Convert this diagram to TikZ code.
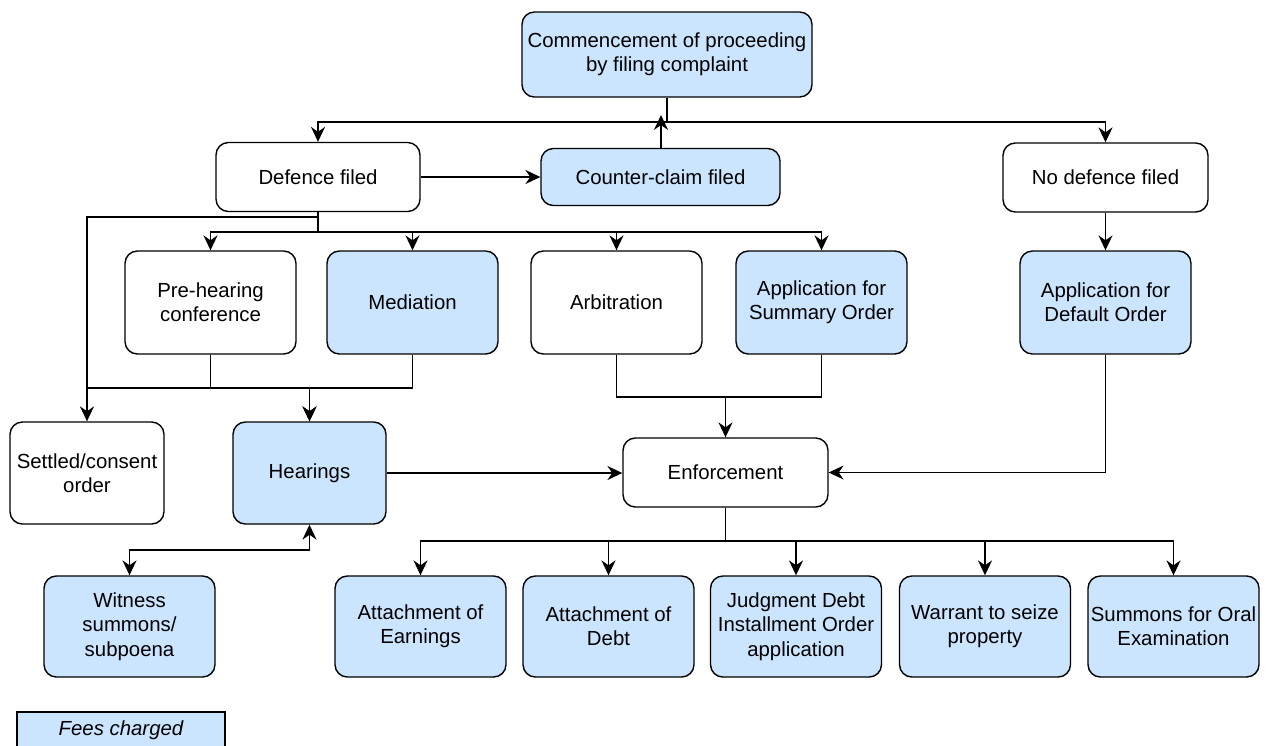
\documentclass[tikz,border=0pt]{standalone}
\usepackage{fontspec}
\setmainfont{Liberation Sans}
\usetikzlibrary{arrows.meta}

\definecolor{feeblue}{RGB}{204,229,255}

\tikzset{
  box/.style={draw, rounded corners=7pt, line width=0.8pt, fill=white, inner sep=0pt,
    align=center, font=\fontsize{11.6}{13.8}\selectfont},
  fee/.style={box, fill=feeblue},
  line/.style={line width=0.8pt},
  tip/.tip={Stealth[length=8.5pt,width=8pt,inset=2.8pt]},
  arr/.style={line, -tip},
  arrboth/.style={line, tip-tip}
}

\begin{document}
\begin{tikzpicture}[x=0.02cm, y=-0.02cm]
        \useasboundingbox (0,0) rectangle (1272,745);

        % top of the process
        \node[fee, minimum width=5.8cm, minimum height=1.7cm] (start) at (667,54.5) {Commencement of proceeding\\by filing complaint};
        \node[box, minimum width=4.08cm, minimum height=1.38cm] (defence) at (318,177) {Defence filed};
        \node[fee, minimum width=4.78cm, minimum height=1.14cm] (counter) at (660.5,177) {Counter-claim filed};
        \node[box, minimum width=4.1cm, minimum height=1.38cm] (nodef) at (1105.5,177.5) {No defence filed};

        % second row
        \node[box, minimum width=3.42cm, minimum height=2.06cm] (pre) at (210.5,302.5) {Pre-hearing\\conference};
        \node[fee, minimum width=3.42cm, minimum height=2.06cm] (med) at (412.5,302.5) {Mediation};
        \node[box, minimum width=3.42cm, minimum height=2.06cm] (arb) at (616.5,302.5) {Arbitration};
        \node[fee, minimum width=3.42cm, minimum height=2.06cm] (summ) at (821.5,302.5) {Application for\\Summary Order};
        \node[fee, minimum width=3.42cm, minimum height=2.06cm] (default) at (1105.5,302.5) {Application for\\Default Order};

        % third row
        \node[box, minimum width=3.08cm, minimum height=2.04cm] (settled) at (87,473) {Settled/consent\\order};
        \node[fee, minimum width=3.06cm, minimum height=2.04cm] (hear) at (309.5,473) {Hearings};
        \node[box, minimum width=4.1cm, minimum height=1.38cm] (enf) at (725.5,472.5) {Enforcement};

        % bottom row
        \node[fee, minimum width=3.42cm, minimum height=2.02cm] (witness) at (129.5,626.5) {Witness\\summons/\\subpoena};
        \node[fee, minimum width=3.42cm, minimum height=2.02cm] (earn) at (420.5,626.5) {Attachment of\\Earnings};
        \node[fee, minimum width=3.42cm, minimum height=2.02cm] (debt) at (608.5,626.5) {Attachment of\\Debt};
        \node[fee, minimum width=3.42cm, minimum height=2.02cm] (instal) at (796,626.5) {Judgment Debt\\Installment Order\\application};
        \node[fee, minimum width=3.42cm, minimum height=2.02cm] (warrant) at (985,626.5) {Warrant to seize\\property};
        \node[fee, minimum width=3.42cm, minimum height=2.02cm] (oral) at (1173.5,626.5) {Summons for Oral\\Examination};

        % legend
        \draw[line, fill=feeblue] (17,712) rectangle (225,770);
        \node[font=\fontsize{11.6}{13.8}\selectfont\itshape] (legend) at (121,730) {Fees charged};

        % connectors
        \coordinate (ccTip) at (661,115);
        \draw[arr] (start.south) -- (start.south |- 0,122) -| (defence.north);
        \draw[arr] (start.south |- 0,122) -| (nodef.north);
        \draw[arr] (defence.east) -- (defence.east -| counter.west);
        \draw[arr] (counter.north -| ccTip) -- (ccTip);
        \draw[arr] (nodef) -- (default);

        \draw[arr] (defence.south) -- (defence.south |- 0,217) -| (settled.north);
        \foreach \n in {pre,med,arb,summ}
          \draw[arr] (defence.south) -- (defence.south |- 0,232) -| (\n.north);

        \draw[arr] (pre.south) -- (pre.south |- 0,388) -| (hear.north);
        \draw[arr] (med.south) -- (med.south |- 0,388) -| (hear.north);
        \draw[line] (pre.south |- 0,388) -- (settled.north |- 0,388);

        \draw[arr] (hear.east) -- (hear.east -| enf.west);
        \draw[arrboth] (hear.south) -- (hear.south |- 0,550) -| (witness.north);

        \draw[line] (arb.south) -- (arb.south |- 0,397) -| (summ.south);
        \draw[arr] (enf.north |- 0,397) -- (enf.north);
        \draw[arr] (default.south) |- (enf.east);

        \foreach \n in {earn,debt,instal,warrant,oral}
          \draw[arr] (enf.south) -- (enf.south |- 0,541) -| (\n.north);
\end{tikzpicture}
\end{document}
